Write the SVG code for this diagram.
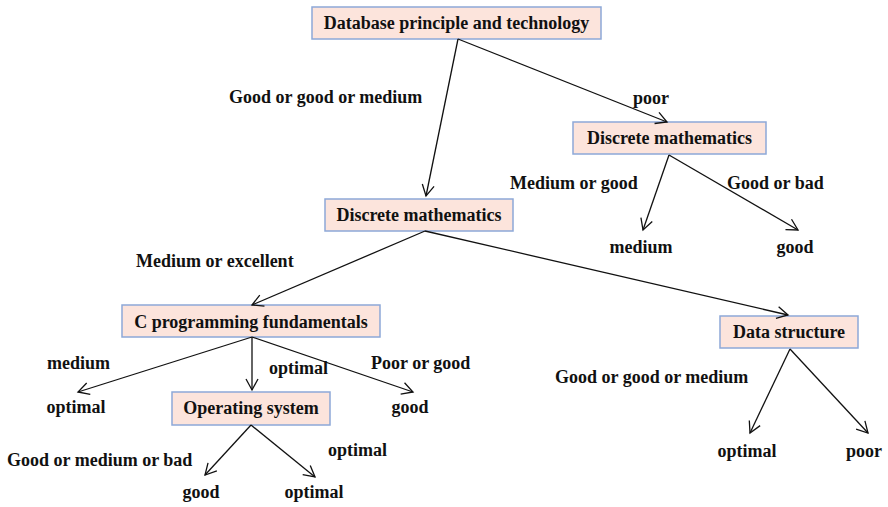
<svg xmlns="http://www.w3.org/2000/svg" width="888" height="507" viewBox="0 0 888 507">
<style>
.box{fill:#FCE4DC;stroke:#8DA8D8;stroke-width:1.5}
text{font-family:'Liberation Serif','Times New Roman',Times,serif;font-weight:700;font-size:18px;fill:#111}
.c line{stroke:#111;stroke-width:1.3;marker-end:url(#a)}
</style>
<defs>
<marker id="a" viewBox="-12 -7 14 14" refX="0" refY="0" markerWidth="14" markerHeight="14" markerUnits="userSpaceOnUse" orient="auto">
<path d="M-11,-6 L0,0 L-11,6" fill="none" stroke="#111" stroke-width="1.3"/>
</marker>
</defs>
<rect width="888" height="507" fill="#fff"/>
<g id="n-db"><rect class="box" x="312" y="7" width="289" height="32"/><text x="456.5" y="29" text-anchor="middle">Database principle and technology</text></g>
<g id="n-dm2"><rect class="box" x="573" y="122" width="193" height="32"/><text x="669.5" y="144" text-anchor="middle">Discrete mathematics</text></g>
<g id="n-dm1"><rect class="box" x="325" y="199" width="188" height="32"/><text x="419" y="221" text-anchor="middle">Discrete mathematics</text></g>
<g id="n-cp"><rect class="box" x="122" y="305" width="258" height="32"/><text x="251" y="328" text-anchor="middle">C programming fundamentals</text></g>
<g id="n-ds"><rect class="box" x="720" y="316" width="138" height="32"/><text x="789" y="338" text-anchor="middle">Data structure</text></g>
<g id="n-os"><rect class="box" x="172" y="392" width="158" height="33"/><text x="251" y="414" text-anchor="middle">Operating system</text></g>
<g id="leaves">
<text x="641" y="253" text-anchor="middle">medium</text>
<text x="795" y="253" text-anchor="middle">good</text>
<text x="76" y="413" text-anchor="middle">optimal</text>
<text x="410" y="413" text-anchor="middle">good</text>
<text x="201" y="498" text-anchor="middle">good</text>
<text x="314" y="498" text-anchor="middle">optimal</text>
<text x="747" y="457" text-anchor="middle">optimal</text>
<text x="864" y="457" text-anchor="middle">poor</text>
</g>
<g id="connectors" class="c">
<line x1="458" y1="39" x2="426" y2="196"/>
<line x1="458" y1="39" x2="667" y2="122"/>
<line x1="669" y1="155" x2="643" y2="230"/>
<line x1="669" y1="155" x2="798" y2="230"/>
<line x1="425" y1="231" x2="252" y2="305"/>
<line x1="425" y1="231" x2="788" y2="315"/>
<line x1="252" y1="337" x2="78" y2="392"/>
<line x1="252" y1="337" x2="252" y2="390"/>
<line x1="252" y1="337" x2="413" y2="392"/>
<line x1="251" y1="425" x2="205" y2="475"/>
<line x1="251" y1="425" x2="315" y2="477"/>
<line x1="790" y1="349" x2="750" y2="433"/>
<line x1="790" y1="349" x2="868" y2="433"/>
</g>
<g id="labels">
<text x="229" y="103">Good or good or medium</text>
<text x="633" y="104">poor</text>
<text x="510" y="189">Medium or good</text>
<text x="727" y="189">Good or bad</text>
<text x="136" y="267">Medium or excellent</text>
<text x="47" y="369">medium</text>
<text x="269" y="374">optimal</text>
<text x="371" y="369">Poor or good</text>
<text x="7" y="466">Good or medium or bad</text>
<text x="328" y="456">optimal</text>
<text x="555" y="383">Good or good or medium</text>
</g>
</svg>
